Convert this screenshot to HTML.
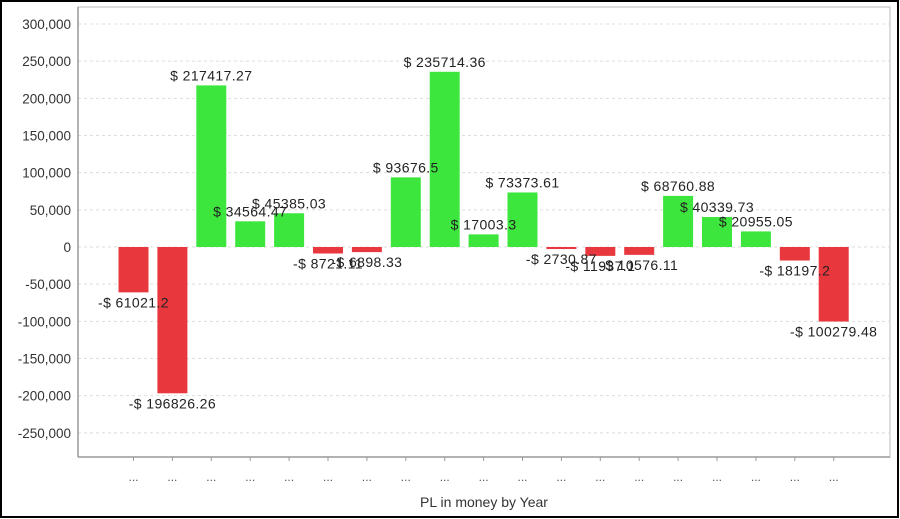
<!DOCTYPE html>
<html><head><meta charset="utf-8"><style>
body{margin:0;background:#fff;}
svg{display:block;font-family:"Liberation Sans",sans-serif;}
</style></head><body>
<svg id="chart" width="900" height="519">
<rect x="1" y="1" width="897" height="516" fill="#fff" stroke="#000" stroke-width="2"/>
<g id="grid"></g><g id="bars"></g><g id="labels"></g><g id="axes"></g>
<text x="484" y="507" font-size="14" text-anchor="middle" fill="#333">PL in money by Year</text>
</svg>
<script>
const categories = ["...","...","...","...","...","...","...","...","...","...","...","...","...","...","...","...","...","...","..."];
const values = [-61021.25,-196826.26,217417.27,34564.47,45385.03,-8721.11,-6898.33,93676.5,235714.36,17003.3,73373.61,-2730.87,-11937.1,-10576.11,68760.88,40339.73,20955.05,-18197.2,-100279.48];
const valueLabels = ["-$ 61021.2","-$ 196826.26","$ 217417.27","$ 34564.47","$ 45385.03","-$ 8721.11","-$ 6898.33","$ 93676.5","$ 235714.36","$ 17003.3","$ 73373.61","-$ 2730.87","-$ 11937.1","-$ 10576.11","$ 68760.88","$ 40339.73","$ 20955.05","-$ 18197.2","-$ 100279.48"];
const yTicks = [-250000,-200000,-150000,-100000,-50000,0,50000,100000,150000,200000,250000,300000];
const yTickLabels = ["-250,000","-200,000","-150,000","-100,000","-50,000","0","50,000","100,000","150,000","200,000","250,000","300,000"];

const NS="http://www.w3.org/2000/svg";
const L=78,R=890,T=7,B=457;
function y(v){return 247 - v*(223/300000);}
function x(i){return 133.5 + i*38.9;}
function mk(tag,attrs,parent){const e=document.createElementNS(NS,tag);for(const k in attrs)e.setAttribute(k,attrs[k]);parent.appendChild(e);return e;}
const grid=document.getElementById('grid'),bars=document.getElementById('bars'),labels=document.getElementById('labels'),axes=document.getElementById('axes');
mk('rect',{x:L,y:T,width:R-L,height:B-T,fill:'#fff',stroke:'#bbb'},grid);
yTicks.forEach((t,i)=>{
  const g=mk('line',{x1:L,x2:R,y1:y(t),y2:y(t),stroke:'#ddd','stroke-dasharray':'3,3'},grid);
  
  
  const tx=mk('text',{x:L-7,y:y(t)+5,'font-size':13.5,'text-anchor':'end',fill:'#333'},axes);
  tx.textContent=yTickLabels[i];
  
  
});
mk('line',{x1:L,x2:L,y1:T,y2:B,stroke:'#999','stroke-width':1.5},axes);
mk('line',{x1:L,x2:R,y1:B,y2:B,stroke:'#999','stroke-width':1.5},axes);
values.forEach((v,i)=>{
  const cx=x(i),y0=y(0),yv=y(v);
  const r=mk('rect',{x:cx-15,y:Math.min(y0,yv),width:30,height:Math.abs(yv-y0),fill:v>=0?'#3de63d':'#e8383d'},bars);
  
  
  const ty=v>=0?yv-5:yv+15;
  const t=mk('text',{x:cx,y:ty,'font-size':14,'letter-spacing':0.4,'text-anchor':'middle',fill:'#222'},labels);
  t.textContent=valueLabels[i];
  
  
  mk('line',{x1:cx,x2:cx,y1:B,y2:B+4,stroke:'#999'},axes);
  const c=mk('text',{x:cx,y:B+24,'font-size':12,'text-anchor':'middle',fill:'#555'},axes);
  c.textContent=categories[i];
  
  
});
</script>
</body></html>
